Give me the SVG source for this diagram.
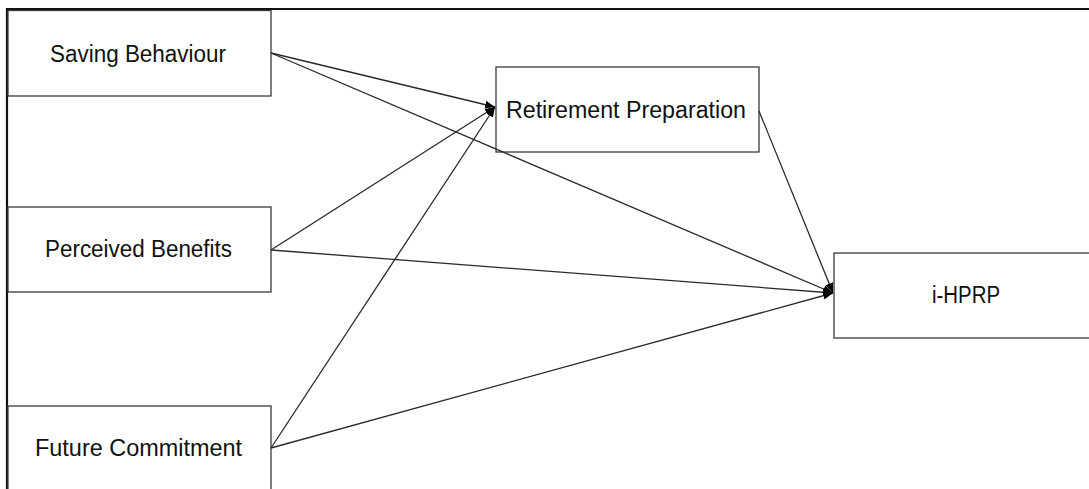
<svg xmlns="http://www.w3.org/2000/svg" width="1089" height="489" viewBox="0 0 1089 489">
<style>
.box{fill:#fff;stroke:#3a3a3a;stroke-width:1.3}
.lbl{font-family:"Liberation Sans",Arial,sans-serif;font-size:23px;fill:#111;text-anchor:middle}
.con{stroke:#2a2a2a;stroke-width:1.3;fill:none;marker-end:url(#ah)}
.frame{stroke:#111;stroke-width:2.2;fill:none}
</style>
<defs>
<marker id="ah" viewBox="0 0 10 8" refX="10" refY="4" markerWidth="10" markerHeight="8" markerUnits="userSpaceOnUse" orient="auto">
<path d="M0,0 L10,4 L0,8 z" fill="#000"/>
</marker>
</defs>
<rect width="1089" height="489" fill="#fff"/>
<g id="frame">
<line class="frame" x1="6" y1="9" x2="1089" y2="9"/>
<line class="frame" x1="7" y1="8" x2="7" y2="489"/>
</g>
<g id="saving"><rect class="box" x="8" y="10.5" width="263" height="85.5"/><text class="lbl" x="138" y="62" textLength="176" lengthAdjust="spacingAndGlyphs">Saving Behaviour</text></g>
<g id="perceived"><rect class="box" x="8" y="207" width="263" height="85"/><text class="lbl" x="138.5" y="257" textLength="187" lengthAdjust="spacingAndGlyphs">Perceived Benefits</text></g>
<g id="future"><rect class="box" x="8" y="406" width="263" height="100"/><text class="lbl" x="138.5" y="456" textLength="207" lengthAdjust="spacingAndGlyphs">Future Commitment</text></g>
<g id="retirement"><rect class="box" x="496" y="67" width="263" height="85"/><text class="lbl" x="626" y="118" textLength="240" lengthAdjust="spacingAndGlyphs">Retirement Preparation</text></g>
<g id="ihprp"><rect class="box" x="834" y="253" width="270" height="85"/><text class="lbl" x="966" y="303" textLength="68" lengthAdjust="spacingAndGlyphs">i-HPRP</text></g>
<g id="connectors">
<line class="con" x1="271" y1="53" x2="495" y2="107"/>
<line class="con" x1="271" y1="53" x2="833" y2="293"/>
<line class="con" x1="271" y1="250" x2="495" y2="107"/>
<line class="con" x1="271" y1="250" x2="833" y2="293"/>
<line class="con" x1="271" y1="448" x2="495" y2="107"/>
<line class="con" x1="271" y1="448" x2="833" y2="293"/>
<line class="con" x1="759" y1="111" x2="833" y2="293"/>
</g>
</svg>
